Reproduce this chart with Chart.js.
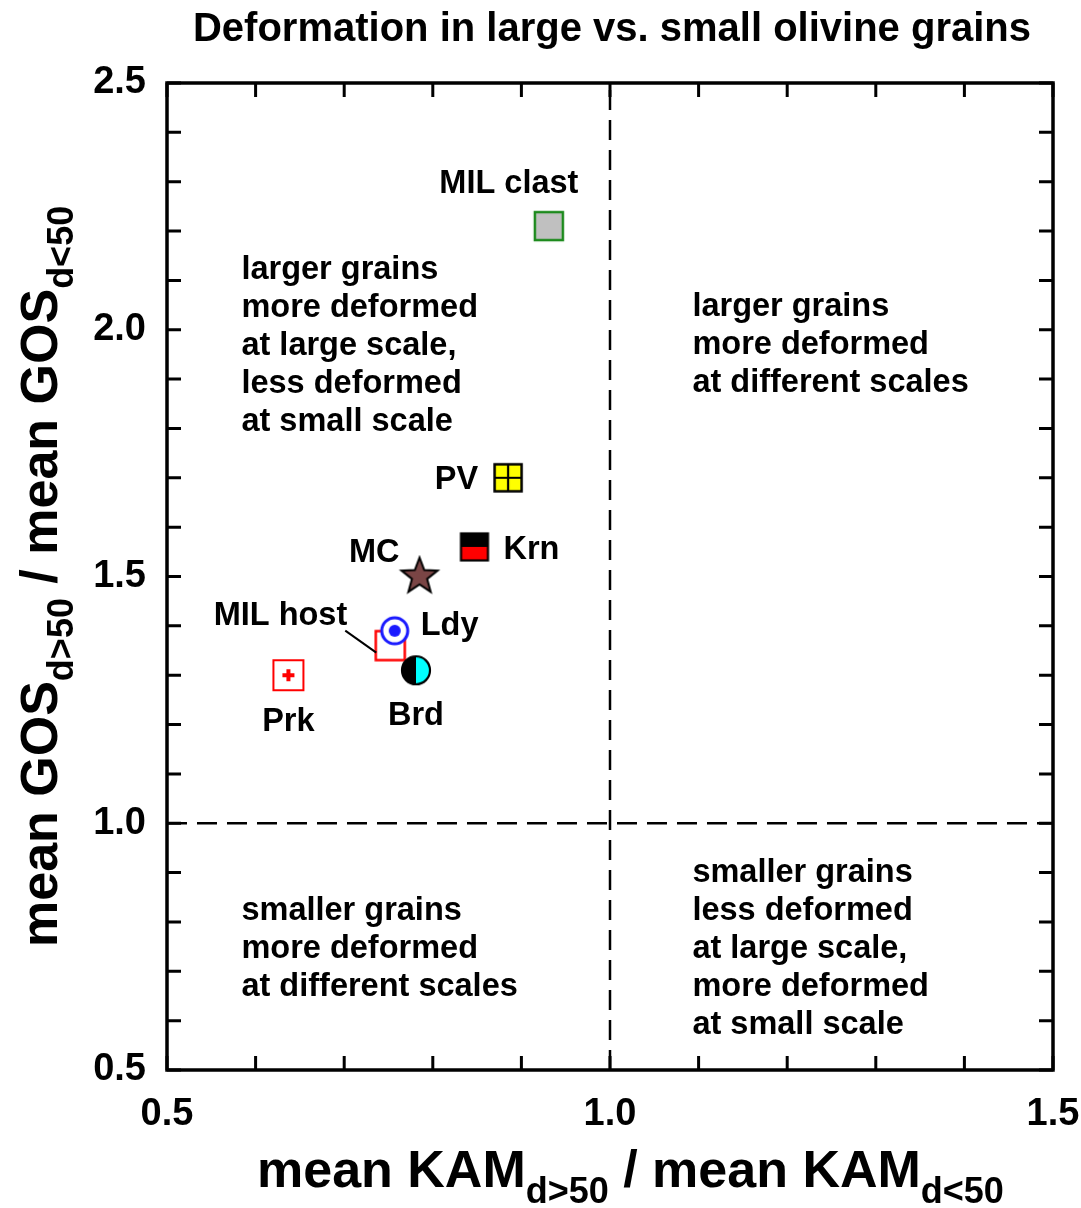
<!DOCTYPE html>
<html>
<head>
<meta charset="utf-8">
<title>Deformation in large vs. small olivine grains</title>
<script src="https://cdn.jsdelivr.net/npm/chart.js@4.4.1/dist/chart.umd.min.js"></script>
<style>
    html, body { margin: 0; padding: 0; background: #fff; }
    canvas { display: block; }
</style>
</head>
<body>
<canvas id="chart-olivine" width="1081" height="1208"></canvas>
<script>
'use strict';

var FONT = '"Liberation Sans", Arial, Helvetica, sans-serif';

// [ data ] one point per sample
var samples  = ['MIL clast', 'PV', 'Krn', 'MC', 'Ldy', 'MIL host', 'Brd', 'Prk'];
var kamRatio = [0.931, 0.885, 0.847, 0.785, 0.757, 0.752, 0.781, 0.637];
var gosRatio = [2.21, 1.70, 1.56, 1.50, 1.39, 1.36, 1.31, 1.30];
var xTickLabels = [0.5, 1.0, 1.5];
var yTickLabels = [0.5, 1.0, 1.5, 2.0, 2.5];
var unity = 1.0;

// quadrant notes: anchor (x, y of first line) in data units
var noteLines = [
    ['larger grains', 'more deformed', 'at large scale,', 'less deformed', 'at small scale'],
    ['larger grains', 'more deformed', 'at different scales'],
    ['smaller grains', 'more deformed', 'at different scales'],
    ['smaller grains', 'less deformed', 'at large scale,', 'more deformed', 'at small scale']
];
var noteX = [0.584, 1.093, 0.584, 1.093];
var noteY = [2.121, 2.046, 0.822, 0.899];

// label placement around each marker (px offset, alignment)
var labelPos = {
    'MIL clast': { dx: -40, dy: -42, align: 'center' },
    'PV':        { dx: -30, dy: 2,   align: 'right' },
    'Krn':       { dx: 29,  dy: 3,   align: 'left' },
    'MC':        { dx: -20, dy: -23, align: 'right' },
    'Ldy':       { dx: 26,  dy: -5,  align: 'left' },
    'MIL host':  { dx: -43, dy: -30, align: 'right' },
    'Brd':       { dx: 0,   dy: 46,  align: 'center' },
    'Prk':       { dx: 0,   dy: 47,  align: 'center' }
};

// [ marker symbols ] drawn once on small canvases, used as pointStyle
function markerCanvas(size, draw) {
    var c = document.createElement('canvas');
    c.width = size;
    c.height = size;
    var g = c.getContext('2d');
    g.translate(size / 2, size / 2);
    draw(g);
    return c;
}

function squareBox(g, s, fill, stroke, lw) {
    if (fill) {
        g.fillStyle = fill;
        g.fillRect(-s / 2, -s / 2, s, s);
    }
    g.lineWidth = lw;
    g.strokeStyle = stroke;
    g.strokeRect(-s / 2, -s / 2, s, s);
}

var markers = {
    'MIL clast': markerCanvas(36, function(g) {
        squareBox(g, 28, '#c0c0c0', '#1c8a1c', 2.5);
    }),
    'PV': markerCanvas(36, function(g) {
        squareBox(g, 27, '#ffff00', '#000', 2.5);
        g.beginPath();
        g.moveTo(-13.5, 0); g.lineTo(13.5, 0);
        g.moveTo(0, -13.5); g.lineTo(0, 13.5);
        g.lineWidth = 2.2;
        g.stroke();
    }),
    'Krn': markerCanvas(36, function(g) {
        g.fillStyle = '#000';
        g.fillRect(-13.5, -13.5, 27, 13.5);
        g.fillStyle = '#ff0000';
        g.fillRect(-13.5, 0, 27, 13.5);
        squareBox(g, 27, null, '#000', 2.2);
    }),
    'MC': markerCanvas(44, function(g) {
        g.beginPath();
        for (var i = 0; i < 10; i++) {
            var r = i % 2 === 0 ? 19 : 8;
            var a = -Math.PI / 2 + i * Math.PI / 5;
            g.lineTo(r * Math.cos(a), r * Math.sin(a));
        }
        g.closePath();
        g.fillStyle = '#7a4545';
        g.fill();
        g.lineWidth = 2;
        g.strokeStyle = '#000';
        g.stroke();
    }),
    'Ldy': markerCanvas(36, function(g) {
        g.beginPath();
        g.arc(0, 0, 13, 0, Math.PI * 2);
        g.fillStyle = '#fff';
        g.fill();
        g.lineWidth = 3;
        g.strokeStyle = '#1a1aff';
        g.stroke();
        g.beginPath();
        g.arc(0, 0, 6, 0, Math.PI * 2);
        g.fillStyle = '#1a1aff';
        g.fill();
    }),
    'MIL host': markerCanvas(36, function(g) {
        squareBox(g, 29, null, '#ff0000', 2.5);
    }),
    'Brd': markerCanvas(36, function(g) {
        g.beginPath();
        g.arc(0, 0, 14, Math.PI / 2, Math.PI * 1.5);
        g.fillStyle = '#000';
        g.fill();
        g.beginPath();
        g.arc(0, 0, 14, -Math.PI / 2, Math.PI / 2);
        g.fillStyle = '#00ffff';
        g.fill();
        g.beginPath();
        g.arc(0, 0, 14, 0, Math.PI * 2);
        g.lineWidth = 2.2;
        g.strokeStyle = '#000';
        g.stroke();
    }),
    'Prk': markerCanvas(36, function(g) {
        squareBox(g, 30, '#fff', '#ff0000', 2);
        g.fillStyle = '#ff0000';
        g.fillRect(-6, -2, 12, 4);
        g.fillRect(-2, -6, 4, 12);
    })
};

// Ldy and Brd are listed ahead of MIL host so they sit on top of its box
var drawOrder = ['Ldy', 'Brd', 'MIL clast', 'PV', 'Krn', 'MC', 'MIL host', 'Prk'];

var datasets = drawOrder.map(function(name) {
    var i = samples.indexOf(name);
    return {
        type: 'scatter',
        label: name,
        data: [{ x: kamRatio[i], y: gosRatio[i] }],
        pointStyle: markers[name],
        pointRadius: 14,
        pointHoverRadius: 14
    };
});

// dashed reference lines at ratio = 1
var dashLine = {
    type: 'line',
    borderColor: '#000',
    borderWidth: 2.5,
    borderDash: [20, 10],
    pointRadius: 0,
    fill: false
};
datasets.push(Object.assign({ label: 'x=1', data: [{ x: unity, y: 0.5 }, { x: unity, y: 2.5 }] }, dashLine));
datasets.push(Object.assign({ label: 'y=1', data: [{ x: 0.5, y: unity }, { x: 1.5, y: unity }] }, dashLine));

function majorLabel(list) {
    return function(value) {
        for (var k = 0; k < list.length; k++) {
            if (Math.abs(value - list[k]) < 1e-6) return list[k].toFixed(1);
        }
        return '';
    };
}

// text with subscripts, parts = [[text, isSub], ...]
function drawSubText(ctx, parts, x, y, big, small, drop) {
    var cx = x;
    parts.forEach(function(p) {
        ctx.font = 'bold ' + (p[1] ? small : big) + 'px ' + FONT;
        ctx.fillText(p[0], cx, p[1] ? y + drop : y);
        cx += ctx.measureText(p[0]).width;
    });
}

var decorPlugin = {
    id: 'decor',
    afterDatasetsDraw: function(chart) {
        var ctx = chart.ctx;
        var a = chart.chartArea;
        var xs = chart.scales.x;
        var ys = chart.scales.y;
        var tick = 14;

        ctx.save();
        ctx.strokeStyle = '#000';
        ctx.fillStyle = '#000';

        // inward ticks on all four sides
        ctx.lineWidth = 3;
        ctx.beginPath();
        xs.ticks.forEach(function(t) {
            var px = xs.getPixelForValue(t.value);
            ctx.moveTo(px, a.bottom); ctx.lineTo(px, a.bottom - tick);
            ctx.moveTo(px, a.top); ctx.lineTo(px, a.top + tick);
        });
        ys.ticks.forEach(function(t) {
            var py = ys.getPixelForValue(t.value);
            ctx.moveTo(a.left, py); ctx.lineTo(a.left + tick, py);
            ctx.moveTo(a.right, py); ctx.lineTo(a.right - tick, py);
        });
        ctx.stroke();

        // frame
        ctx.lineWidth = 3.5;
        ctx.strokeRect(a.left, a.top, a.right - a.left, a.bottom - a.top);

        // leader from MIL host label to its box
        var h = samples.indexOf('MIL host');
        var hx = xs.getPixelForValue(kamRatio[h]);
        var hy = ys.getPixelForValue(gosRatio[h]);
        ctx.lineWidth = 2;
        ctx.beginPath();
        ctx.moveTo(hx - 45, hy - 15);
        ctx.lineTo(hx - 14, hy + 7);
        ctx.stroke();

        // sample labels
        ctx.font = 'bold 32.5px ' + FONT;
        ctx.textBaseline = 'middle';
        samples.forEach(function(name, i) {
            var p = labelPos[name];
            ctx.textAlign = p.align;
            ctx.fillText(name, xs.getPixelForValue(kamRatio[i]) + p.dx, ys.getPixelForValue(gosRatio[i]) + p.dy);
        });

        // quadrant notes
        ctx.textAlign = 'left';
        noteLines.forEach(function(lines, q) {
            var nx = xs.getPixelForValue(noteX[q]);
            var ny = ys.getPixelForValue(noteY[q]);
            lines.forEach(function(line, k) {
                ctx.fillText(line, nx, ny + k * 38);
            });
        });

        // chart title
        ctx.textAlign = 'center';
        ctx.textBaseline = 'alphabetic';
        ctx.font = 'bold 40px ' + FONT;
        ctx.fillText('Deformation in large vs. small olivine grains', (a.left + a.right) / 2 + 2, 41);

        // axis titles
        ctx.textAlign = 'left';
        drawSubText(ctx, [['mean KAM', false], ['d>50', true], [' / mean KAM', false], ['d<50', true]],
            257, 1187, 52, 36, 16);

        ctx.translate(57, 947);
        ctx.rotate(-Math.PI / 2);
        drawSubText(ctx, [['mean GOS', false], ['d>50', true], [' / mean GOS', false], ['d<50', true]],
            0, 0, 52, 36, 16);

        ctx.restore();
    }
};

var ctx = document.getElementById('chart-olivine').getContext('2d');
var olivineChart = new Chart(ctx, {
    data: { datasets: datasets },
    options: {
        responsive: false,
        animation: false,
        events: [],
        layout: { padding: { top: 83, right: 28, left: 0, bottom: 0 } },
        plugins: {
            legend: { display: false },
            tooltip: { enabled: false },
            title: { display: false }
        },
        scales: {
            x: {
                type: 'linear',
                min: 0.5,
                max: 1.5,
                grid: { display: false, drawTicks: false },
                border: { display: false },
                ticks: {
                    stepSize: 0.1,
                    autoSkip: false,
                    maxRotation: 0,
                    padding: 22,
                    color: '#000',
                    font: { family: FONT, size: 38, weight: 'bold' },
                    callback: majorLabel(xTickLabels)
                },
                afterFit: function(scale) {
                    scale.height = 138;
                    scale.paddingLeft = 0;
                    scale.paddingRight = 0;
                }
            },
            y: {
                type: 'linear',
                min: 0.5,
                max: 2.5,
                grid: { display: false, drawTicks: false },
                border: { display: false },
                ticks: {
                    stepSize: 0.1,
                    autoSkip: false,
                    padding: 21,
                    color: '#000',
                    font: { family: FONT, size: 38, weight: 'bold' },
                    callback: majorLabel(yTickLabels)
                },
                afterFit: function(scale) {
                    scale.width = 167;
                    scale.paddingTop = 0;
                    scale.paddingBottom = 0;
                }
            }
        }
    },
    plugins: [decorPlugin]
});
</script>
</body>
</html>
